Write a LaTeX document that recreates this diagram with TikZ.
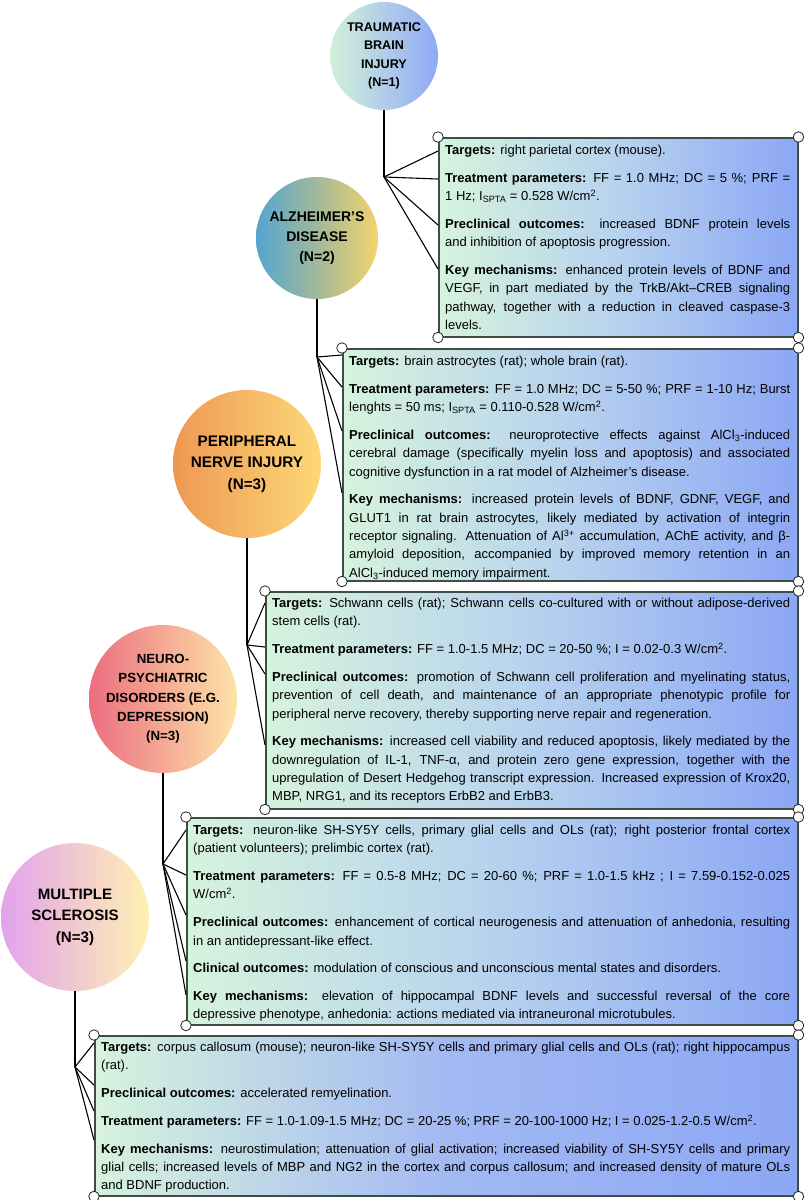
\documentclass[tikz,border=0pt]{standalone}
\usepackage{fontspec}
\setmainfont{Liberation Sans}
\usetikzlibrary{calc}
\definecolor{bxL}{HTML}{D6F3DD}
\definecolor{bxM}{HTML}{B7D2EE}
\definecolor{bxR}{HTML}{8CA7F4}
\definecolor{bxMb}{HTML}{A3B9F3}
\definecolor{bxB}{HTML}{404C46}
\definecolor{tbiL}{HTML}{D3F0DA}
\definecolor{tbiR}{HTML}{8FAAF6}
\definecolor{adL}{HTML}{55A5D0}
\definecolor{adM}{HTML}{A2B99A}
\definecolor{adR}{HTML}{F3D36C}
\definecolor{pnL}{HTML}{EE9852}
\definecolor{pnR}{HTML}{FDD878}
\definecolor{npL}{HTML}{EC6E80}
\definecolor{npR}{HTML}{FDE4A8}
\definecolor{msL}{HTML}{E2A2EC}
\definecolor{msR}{HTML}{FFF1B3}
\newcommand{\boxprep}{\setlength{\parskip}{9.5pt}\tolerance=10000\relax\hyphenpenalty=10000\relax}
\newcommand{\Ispta}{I\textsubscript{SPTA}}
\newcommand{\Wcm}{W/cm\textsuperscript{2}}
\newcommand{\AlCl}{AlCl\textsubscript{3}}
\tikzset{
  disease/.style={circle, inner sep=0pt, align=center},
  infobox/.style={draw=bxB, line width=1.5pt, inner sep=0pt, rectangle, anchor=north west},
  boxtext/.style={inner sep=0pt, align=justify, anchor=base west, font=\fontsize{13}{18.3}\selectfont},
  link/.style={draw=black, line width=1.1pt},
  cornerdot/.style={circle, draw=black!85, fill=white, line width=0.8pt, minimum size=10.5pt, inner sep=0pt},
}
\begin{document}
\begin{tikzpicture}[x=1pt,y=-1pt]
\useasboundingbox (0,0) rectangle (804,1200);

% disease circles
\node[disease, minimum size=108pt, left color=tbiL, right color=tbiR, font=\bfseries\fontsize{12.6}{18.3}\selectfont] (c1) at (384,56) {TRAUMATIC\\BRAIN\\INJURY\\(N=1)};
\node[disease, minimum size=122pt, left color=adL, right color=adR, middle color=adM, font=\bfseries\fontsize{14}{19.8}\selectfont] (c2) at (317,238) {ALZHEIMER’S\\DISEASE\\(N=2)};
\node[disease, minimum size=148pt, left color=pnL, right color=pnR, font=\bfseries\fontsize{15.3}{21.6}\selectfont] (c3) at (247,464) {PERIPHERAL\\NERVE INJURY\\(N=3)};
\node[disease, minimum size=148pt, left color=npL, right color=npR, font=\bfseries\fontsize{13.3}{19.3}\selectfont] (c4) at (163,699) {NEURO-\\PSYCHIATRIC\\DISORDERS (E.G.\\DEPRESSION)\\(N=3)};
\node[disease, minimum size=148pt, left color=msL, right color=msR, font=\bfseries\fontsize{15.1}{21.5}\selectfont] (c5) at (75,917) {MULTIPLE\\SCLEROSIS\\(N=3)};

% info boxes
\node[infobox, minimum width=359pt, minimum height=199pt, left color=bxL, right color=bxR, middle color=bxM] (b1) at (438,137) {};
\node[infobox, minimum width=455pt, minimum height=232pt, left color=bxL, right color=bxR, middle color=bxM] (b2) at (342,348) {};
\node[infobox, minimum width=532pt, minimum height=217pt, left color=bxL, right color=bxR, middle color=bxM] (b3) at (265,591) {};
\node[infobox, minimum width=611pt, minimum height=207pt, left color=bxL, right color=bxR, middle color=bxM] (b4) at (186,817) {};
\node[infobox, minimum width=703pt, minimum height=160pt, left color=bxL, right color=bxR, middle color=bxMb] (b5) at (94,1035) {};

\node[boxtext, text width=345pt] (t1) at ($(b1.north west)+(7,17.5)$) {\boxprep
\textbf{Targets:} right parietal cortex (mouse).\par
\textbf{Treatment parameters:} FF = 1.0 MHz; DC = 5 \%; PRF =\linebreak 1 Hz; \Ispta{} = 0.528 \Wcm.\par
\textbf{Preclinical outcomes:} increased BDNF protein levels\linebreak and inhibition of apoptosis progression.\par
\textbf{Key mechanisms:} enhanced protein levels of BDNF and\linebreak VEGF, in part mediated by the TrkB/Akt–CREB signaling\linebreak pathway, together with a reduction in cleaved caspase-3\linebreak levels.};

\node[boxtext, text width=441pt] (t2) at ($(b2.north west)+(7,17.5)$) {\boxprep
\textbf{Targets:} brain astrocytes (rat); whole brain (rat).\par
\textbf{Treatment parameters:} FF = 1.0 MHz; DC = 5-50 \%; PRF = 1-10 Hz; Burst\linebreak lenghts = 50 ms; \Ispta{} = 0.110-0.528 \Wcm.\par
\textbf{Preclinical outcomes:} neuroprotective effects against \AlCl-induced\linebreak cerebral damage (specifically myelin loss and apoptosis) and associated\linebreak cognitive dysfunction in a rat model of Alzheimer’s disease.\par
\textbf{Key mechanisms:} increased protein levels of BDNF, GDNF, VEGF, and\linebreak GLUT1 in rat brain astrocytes, likely mediated by activation of integrin\linebreak receptor signaling. Attenuation of Al\textsuperscript{3+} accumulation, AChE activity, and β-\linebreak amyloid deposition, accompanied by improved memory retention in an\linebreak \AlCl-induced memory impairment.};

\node[boxtext, text width=518pt] (t3) at ($(b3.north west)+(7,16.5)$) {\boxprep
\textbf{Targets:} Schwann cells (rat); Schwann cells co-cultured with or without adipose-derived\linebreak stem cells (rat).\par
\textbf{Treatment parameters:} FF = 1.0-1.5 MHz; DC = 20-50 \%; I = 0.02-0.3 \Wcm.\par
\textbf{Preclinical outcomes:} promotion of Schwann cell proliferation and myelinating status,\linebreak prevention of cell death, and maintenance of an appropriate phenotypic profile for\linebreak peripheral nerve recovery, thereby supporting nerve repair and regeneration.\par
\textbf{Key mechanisms:} increased cell viability and reduced apoptosis, likely mediated by the\linebreak downregulation of IL-1, TNF-α, and protein zero gene expression, together with the\linebreak upregulation of Desert Hedgehog transcript expression. Increased expression of Krox20,\linebreak MBP, NRG1, and its receptors ErbB2 and ErbB3.};

\node[boxtext, text width=597pt] (t4) at ($(b4.north west)+(7,17.5)$) {\boxprep
\textbf{Targets:} neuron-like SH-SY5Y cells, primary glial cells and OLs (rat); right posterior frontal cortex\linebreak (patient volunteers); prelimbic cortex (rat).\par
\textbf{Treatment parameters:} FF = 0.5-8 MHz; DC = 20-60 \%; PRF = 1.0-1.5 kHz ; I = 7.59-0.152-0.025\linebreak \Wcm.\par
\textbf{Preclinical outcomes:} enhancement of cortical neurogenesis and attenuation of anhedonia, resulting\linebreak in an antidepressant-like effect.\par
\textbf{Clinical outcomes:} modulation of conscious and unconscious mental states and disorders.\par
\textbf{Key mechanisms:} elevation of hippocampal BDNF levels and successful reversal of the core\linebreak depressive phenotype, anhedonia: actions mediated via intraneuronal microtubules.};

\node[boxtext, text width=689pt] (t5) at ($(b5.north west)+(7,16.5)$) {\boxprep
\textbf{Targets:} corpus callosum (mouse); neuron-like SH-SY5Y cells and primary glial cells and OLs (rat); right hippocampus\linebreak (rat).\par
\textbf{Preclinical outcomes:} accelerated remyelination.\par
\textbf{Treatment parameters:} FF = 1.0-1.09-1.5 MHz; DC = 20-25 \%; PRF = 20-100-1000 Hz; I = 0.025-1.2-0.5 \Wcm.\par
\textbf{Key mechanisms:} neurostimulation; attenuation of glial activation; increased viability of SH-SY5Y cells and primary\linebreak glial cells; increased levels of MBP and NG2 in the cortex and corpus callosum; and increased density of mature OLs\linebreak and BDNF production.};

% fan origins
\coordinate (f1) at (384,177);
\coordinate (f2) at (317,357);
\coordinate (f3) at (247,645);
\coordinate (f4) at (163,864);
\coordinate (f5) at (75,1067);

\draw[link] (c1) -- (f1);
\draw[link] (c2) -- (f2);
\draw[link] (c3) -- (f3);
\draw[link] (c4) -- (f4);
\draw[link] (c5) -- (f5);

\foreach \y [count=\i] in {151,179,225,269} {\coordinate (b1e\i) at (438,\y); \draw[link] (f1) -- (b1e\i);}
\foreach \y [count=\i] in {355,387,431,493} {\coordinate (b2e\i) at (342,\y); \draw[link] (f2) -- (b2e\i);}
\foreach \y [count=\i] in {603,647,674,745} {\coordinate (b3e\i) at (265,\y); \draw[link] (f3) -- (b3e\i);}
\foreach \y [count=\i] in {830,875,915,961,995} {\coordinate (b4e\i) at (186,\y); \draw[link] (f4) -- (b4e\i);}
\foreach \y [count=\i] in {1043,1085,1111,1140} {\coordinate (b5e\i) at (94,\y); \draw[link] (f5) -- (b5e\i);}

% corner handles
\foreach \b in {b1,b2,b3,b4,b5}{
  \foreach \a/\s in {north west/nw,north east/ne,south west/sw,south east/se}{
    \node[cornerdot] (\b\s) at (\b.\a) {};
  }
}
\end{tikzpicture}
\end{document}
